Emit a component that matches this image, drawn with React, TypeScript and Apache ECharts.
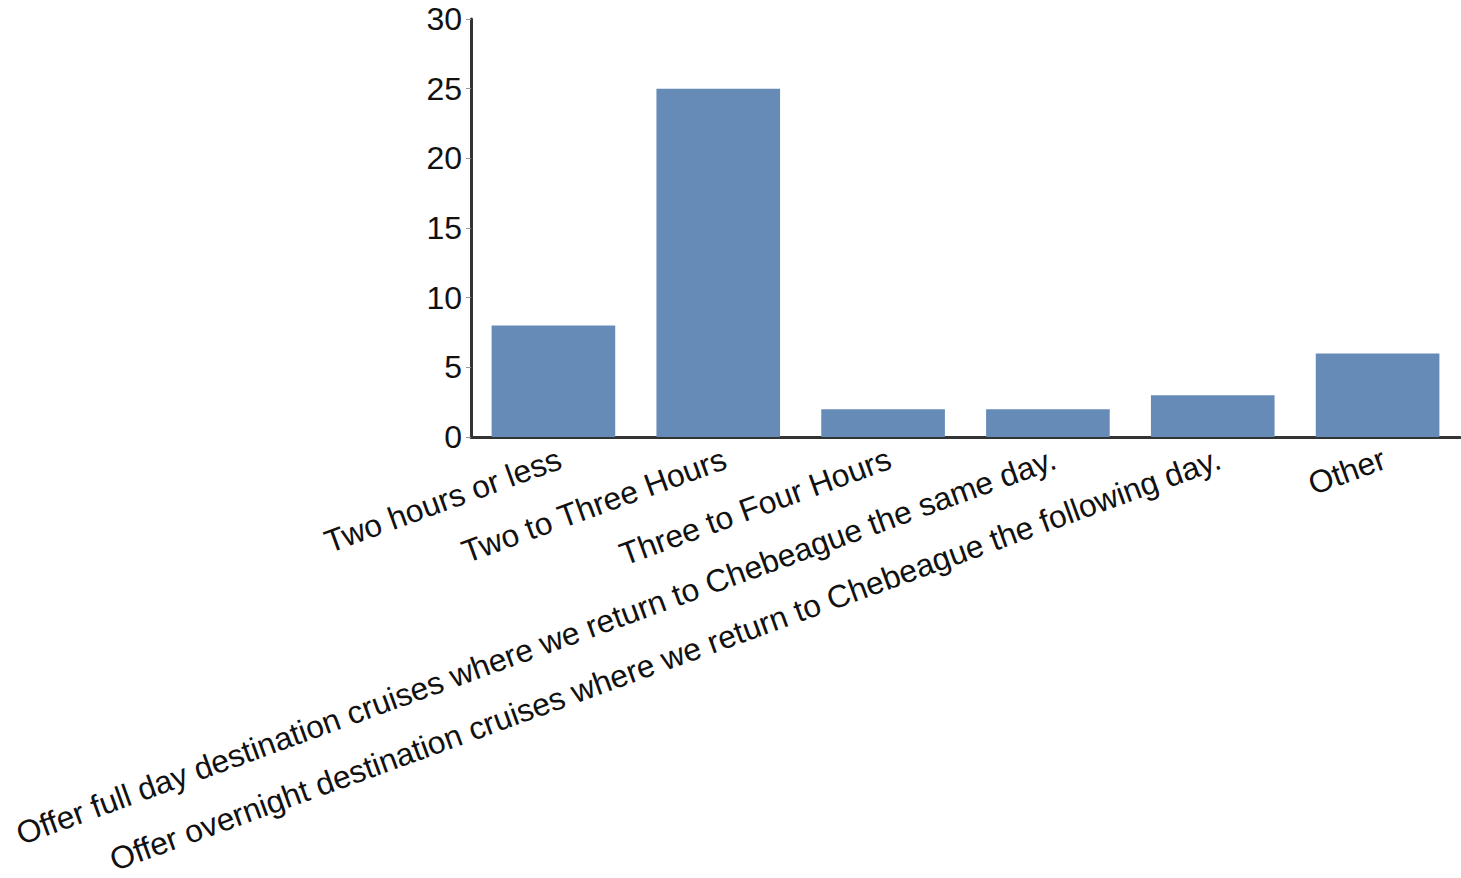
import React, { useEffect, useRef } from "react";
import * as echarts from "echarts";

const categories = [
  "Two hours or less",
  "Two to Three Hours",
  "Three to Four Hours",
  "Offer full day destination cruises where we return to Chebeague the same day.",
  "Offer overnight destination cruises where we return to Chebeague the following day.",
  "Other",
];
const values = [8, 25, 2, 2, 3, 6];
const yTicks = { min: 0, max: 30, interval: 5 };

export default function App() {
  const ref = useRef<HTMLDivElement>(null);
  useEffect(() => {
    if (!ref.current) return;
    const chart = echarts.init(ref.current, null, { renderer: "svg" });
    chart.setOption({
      animation: false,
      grid: {
        left: 471,
        right: 1,
        top: 19,
        bottom: 441,
        containLabel: false,
        outerBoundsMode: "none",
      },
      xAxis: {
        type: "category",
        data: categories,
        axisLine: { lineStyle: { color: "#333", width: 3 } },
        axisTick: { alignWithLabel: true, length: 5, lineStyle: { color: "#999", width: 1 } },
        axisLabel: {
          rotate: 20,
          interval: 0,
          fontSize: 31.8,
          fontFamily: "Liberation Sans, Arial, sans-serif",
          color: "#111",
          margin: 23,
          padding: [0, -7, 0, 0],
        },
      },
      yAxis: {
        type: "value",
        min: yTicks.min,
        max: yTicks.max,
        interval: yTicks.interval,
        splitLine: { show: false },
        axisLine: { show: true, lineStyle: { color: "#333", width: 3 } },
        axisTick: { show: true, length: 5, lineStyle: { color: "#999", width: 1 } },
        axisLabel: {
          fontSize: 32,
          fontFamily: "Liberation Sans, Arial, sans-serif",
          color: "#111",
          margin: 9,
        },
      },
      series: [
        {
          type: "bar",
          data: values,
          barWidth: "75%",
          itemStyle: { color: "#668bb6" },
        },
      ],
    });
    return () => chart.dispose();
  }, []);
  return (
    <div
      ref={ref}
      style={{ position: "fixed", left: 0, top: 0, width: 1461, height: 878, background: "#fff" }}
    />
  );
}
